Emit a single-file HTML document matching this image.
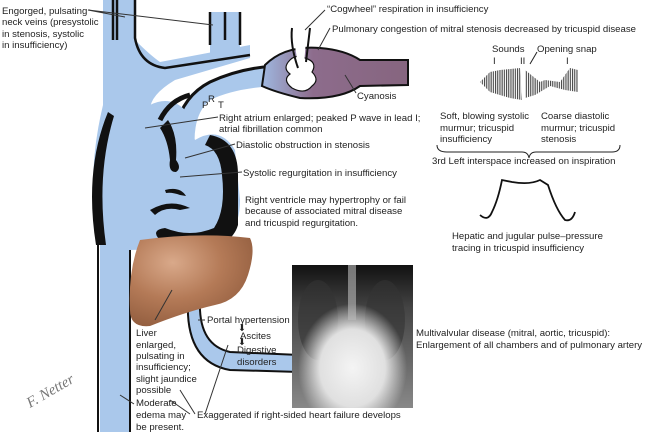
<!DOCTYPE html>
<html><head><meta charset="utf-8"><style>
body{margin:0;background:#fff}
svg{display:block}
text{font-family:"Liberation Sans",sans-serif;font-size:9.6px;fill:#222}
</style></head><body>
<svg width="650" height="432" viewBox="0 0 650 432" xmlns="http://www.w3.org/2000/svg">
<defs>
<radialGradient id="liv" cx="0.35" cy="0.3" r="0.8"><stop offset="0" stop-color="#d9a98a"/><stop offset="0.5" stop-color="#b47a57"/><stop offset="1" stop-color="#8e5a3c"/></radialGradient>
<radialGradient id="xh" cx="0.5" cy="0.72" r="0.45"><stop offset="0" stop-color="#f4f4f4"/><stop offset="0.6" stop-color="#e0e0e0"/><stop offset="1" stop-color="#e0e0e0" stop-opacity="0"/></radialGradient>
<linearGradient id="xt" x1="0" y1="0" x2="0" y2="1"><stop offset="0" stop-color="#111"/><stop offset="0.3" stop-color="#444"/><stop offset="1" stop-color="#888"/></linearGradient>
<pattern id="snd" width="2.2" height="10" patternUnits="userSpaceOnUse"><rect width="1.1" height="10" fill="#444"/></pattern>
<linearGradient id="pv" x1="0" x2="1"><stop offset="0" stop-color="#9fb8e0"/><stop offset="0.35" stop-color="#8d6c8c"/><stop offset="1" stop-color="#86657f"/></linearGradient>
</defs>

<path d="M103,0 L135,0 L135,40 Q150,55 160,62 L250,45 L250,58 L175,80 Q150,95 150,110 L103,110 Z" fill="#aac8eb"/>
<path d="M210,12 L240,12 L240,50 L210,55 Z" fill="#aac8eb"/>
<path d="M113,0 L113,40 M117,0 L117,40 M210,12 L210,45 M240,12 L240,45 M225,12 L225,40" stroke="#111" stroke-width="2.5" fill="none"/>
<path d="M135,0 L135,38 Q140,65 165,68 L250,55" stroke="#111" stroke-width="2.5" fill="none"/>
<path d="M172,150 Q175,100 210,82 Q240,68 275,66 L275,86 Q235,88 210,100 Q192,115 195,150 Z" fill="#aac8eb"/>
<path d="M172,150 Q175,100 210,82 Q240,68 275,66" stroke="#111" stroke-width="3" fill="none"/>
<path d="M265,65 Q285,45 320,48 Q345,50 360,60 L408,60 L408,85 L360,86 Q340,100 300,98 Q275,92 262,86 Z" fill="url(#pv)" stroke="#111" stroke-width="2"/>
<path d="M290,60 Q282,68 290,74 Q282,80 292,88 Q305,95 312,86 Q320,80 312,72 Q318,62 305,58 Q296,54 290,60 Z" fill="#fff" stroke="#111" stroke-width="1.2"/>
<path d="M292,28 Q290,45 298,68 M306,62 Q308,45 310,28" stroke="#111" stroke-width="2" fill="none"/>
<path d="M294,40 L306,40 L304,65 L298,65 Z" fill="#fff"/>
<path d="M103,105 L150,105 Q170,95 185,110 L195,140 Q220,125 235,150 L240,200 Q240,245 200,248 L130,250 L130,432 L100,432 L100,240 Q85,180 103,105 Z" fill="#aac8eb"/>
<path d="M108,112 Q84,170 96,245 L106,245 Q96,175 114,116 Z" fill="#111"/>
<path d="M210,135 Q238,140 238,175 L238,225 Q230,252 185,247 L160,240 Q150,230 165,228 Q190,238 214,228 Q226,210 222,175 Q220,150 205,145 Z" fill="#111"/>
<path d="M168,120 Q178,135 176,160 Q182,168 176,172 Q168,172 170,160 Q168,140 160,128 Z" fill="#111"/>
<path d="M165,190 Q180,186 186,196 L180,195 Q172,192 166,193 Z" fill="#111"/>
<path d="M150,210 Q170,198 190,208 L180,210 Q165,206 155,215 Z" fill="#111"/>
<path d="M160,120 Q170,100 190,95" stroke="#111" stroke-width="5" fill="none"/>
<path d="M98,240 L98,432" stroke="#111" stroke-width="2"/>
<path d="M130,250 L130,432" stroke="#111" stroke-width="2"/>
<path d="M188,300 L200,300 Q198,345 230,352 L300,355 L300,372 L230,370 Q185,362 188,300 Z" fill="#aac8eb"/>
<path d="M188,300 Q185,362 230,370 L300,372 M200,300 Q198,345 230,352 L300,355" stroke="#111" stroke-width="2" fill="none"/>
<path d="M140,240 Q200,232 250,238 Q256,250 248,275 Q240,300 215,305 Q185,312 150,326 Q130,328 130,310 Q128,270 140,240 Z" fill="url(#liv)"/>
<!-- xray -->
<rect x="292" y="265" width="121" height="143" fill="url(#xt)"/>
<ellipse cx="318" cy="320" rx="20" ry="40" fill="#333" opacity="0.6"/>
<ellipse cx="385" cy="320" rx="20" ry="40" fill="#333" opacity="0.6"/>
<rect x="292" y="265" width="121" height="143" fill="url(#xh)"/>
<path d="M352,265 L352,320" stroke="#bbb" stroke-width="8" opacity="0.6"/>
<path d="M480,82 L490,72 L500,70 L520,68 L522,100 L510,98 L490,92 Z M525,70 L535,78 L540,82 L545,80 L560,82 L570,68 L578,70 L578,92 L565,90 L550,86 L535,95 L525,98 Z" fill="url(#snd)"/>
<path d="M530,64 L537,52" stroke="#222"/>
<path d="M437,145 Q437,152 447,152 L522,152 Q528,152 529,158 Q530,152 536,152 L612,152 Q620,152 620,145" stroke="#222" fill="none"/>
<path d="M480,215 Q488,222 492,212 Q498,200 502,180 L512,182 Q530,185 540,180 L548,185 Q556,210 565,220 Q572,222 575,212" stroke="#111" stroke-width="1.8" fill="none"/>
<g stroke="#333" stroke-width="1" fill="none">
<path d="M88,10 L213,25 M88,10 L125,17"/>
<path d="M325,10 L305,30 M330,28 L318,50"/>
<path d="M356,93 L345,75"/>
<path d="M218,117 L145,128"/>
<path d="M235,144 L185,158"/>
<path d="M242,172 L180,177"/>
<path d="M172,290 L155,320 M205,320 L198,320"/>
<path d="M195,414 L180,390 M205,414 L228,345 M190,414 L170,400 M134,404 L120,395"/>
</g>
<text x="202" y="108" font-size="8">P</text><text x="208" y="102" font-size="8">R</text><text x="218" y="108" font-size="8">T</text>
<text x="2" y="14">Engorged, pulsating</text>
<text x="2" y="25">neck veins (presystolic</text>
<text x="2" y="37">in stenosis, systolic</text>
<text x="2" y="48">in insufficiency)</text>
<text x="327" y="12">“Cogwheel” respiration in insufficiency</text>
<text x="332" y="32">Pulmonary congestion of mitral stenosis decreased by tricuspid disease</text>
<text x="492" y="52">Sounds</text><text x="537" y="52">Opening snap</text>
<text x="493" y="64" font-size="8">I</text><text x="520" y="64" font-size="8">II</text><text x="566" y="64" font-size="8">I</text>
<text x="357" y="99">Cyanosis</text>
<text x="440" y="119">Soft, blowing systolic</text><text x="440" y="131">murmur; tricuspid</text><text x="440" y="142">insufficiency</text>
<text x="541" y="119">Coarse diastolic</text><text x="541" y="131">murmur; tricuspid</text><text x="541" y="142">stenosis</text>
<text x="432" y="164">3rd Left interspace increased on inspiration</text>
<text x="452" y="239">Hepatic and jugular pulse–pressure</text>
<text x="452" y="251">tracing in tricuspid insufficiency</text>
<text x="219" y="121">Right atrium enlarged; peaked P wave in lead I;</text>
<text x="219" y="132">atrial fibrillation common</text>
<text x="236" y="148">Diastolic obstruction in stenosis</text>
<text x="243" y="176">Systolic regurgitation in insufficiency</text>
<text x="245" y="203">Right ventricle may hypertrophy or fail</text>
<text x="245" y="214">because of associated mitral disease</text>
<text x="245" y="226">and tricuspid regurgitation.</text>
<text x="207" y="323">Portal hypertension</text>
<text x="240" y="339">Ascites</text><text x="237" y="353">Digestive</text><text x="237" y="365">disorders</text>
<text x="238" y="331" font-size="8">⬇</text><text x="238" y="345" font-size="8">⬇</text>
<text x="136" y="336">Liver</text><text x="136" y="348">enlarged,</text><text x="136" y="359">pulsating in</text><text x="136" y="370">insufficiency;</text><text x="136" y="382">slight jaundice</text><text x="136" y="393">possible</text><text x="136" y="406">Moderate</text><text x="136" y="418">edema may</text><text x="136" y="430">be present.</text>
<text x="197" y="418">Exaggerated if right-sided heart failure develops</text>
<text x="416" y="336">Multivalvular disease (mitral, aortic, tricuspid):</text>
<text x="416" y="348">Enlargement of all chambers and of pulmonary artery</text>
<text x="30" y="408" transform="rotate(-30 30 408)" style="font-family:'Liberation Serif',serif;font-style:italic;font-size:15px;fill:#777">F. Netter</text>
</svg>
</body></html>
